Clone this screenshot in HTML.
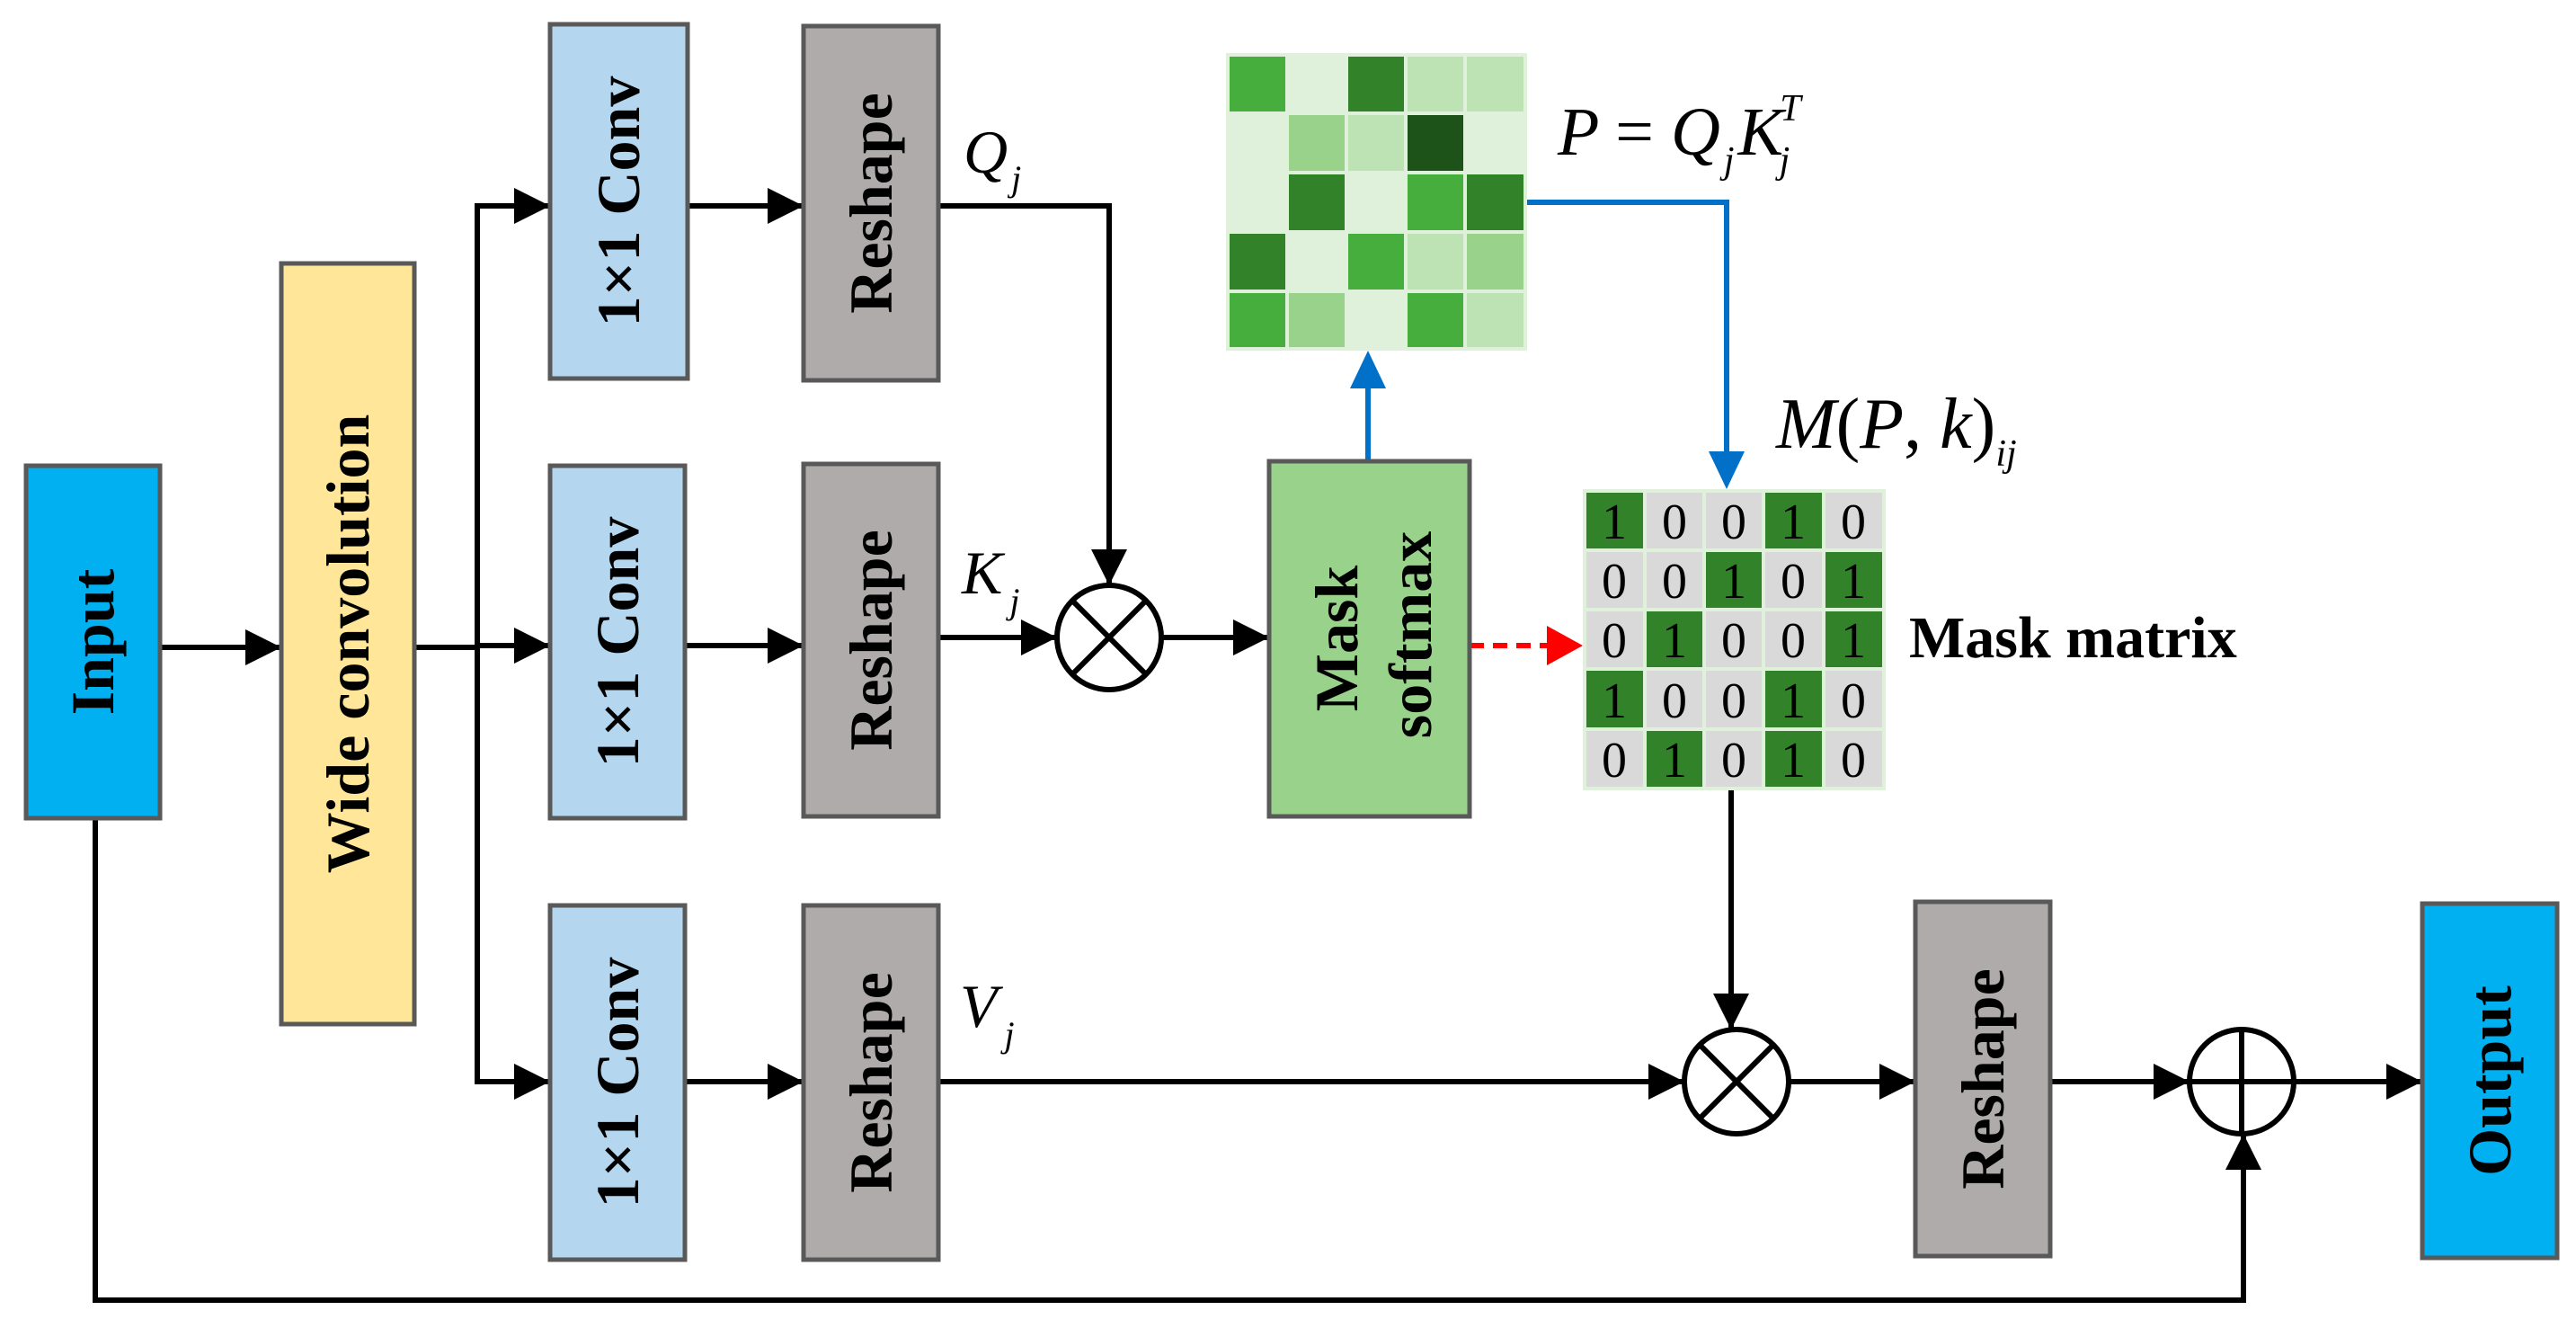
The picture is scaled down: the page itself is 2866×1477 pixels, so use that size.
<!DOCTYPE html>
<html><head><meta charset="utf-8"><style>html,body{margin:0;padding:0;background:#fff}svg{display:block}</style></head>
<body>
<svg width="2866" height="1477" viewBox="0 0 2866 1477" xmlns="http://www.w3.org/2000/svg" font-family="Liberation Serif, serif">
<g stroke="#000" stroke-width="6" fill="none">
<line x1="178" y1="720" x2="313" y2="720"/>
<line x1="461" y1="720" x2="531" y2="720"/>
<polyline points="612,229 531,229 531,1203 612,1203"/>
<line x1="531" y1="718" x2="612" y2="718"/>
<line x1="765" y1="229" x2="894" y2="229"/>
<line x1="762" y1="718" x2="894" y2="718"/>
<line x1="762" y1="1203" x2="894" y2="1203"/>
<polyline points="1044,229 1234,229 1234,651"/>
<line x1="1044" y1="709" x2="1176" y2="709"/>
<line x1="1292" y1="709" x2="1412" y2="709"/>
<line x1="1044" y1="1203" x2="1874" y2="1203"/>
<line x1="1926" y1="879" x2="1926" y2="1145"/>
<line x1="1990" y1="1203" x2="2131" y2="1203"/>
<line x1="2281" y1="1203" x2="2436" y2="1203"/>
<line x1="2552" y1="1203" x2="2695" y2="1203"/>
<polyline points="106,910 106,1446 2496,1446 2496,1261"/>
</g>
<g fill="#000">
<path d="M313,720 l-40,-20 v40z"/>
<path d="M612,229 l-40,-20 v40z"/>
<path d="M612,718 l-40,-20 v40z"/>
<path d="M612,1203 l-40,-20 v40z"/>
<path d="M894,229 l-40,-20 v40z"/>
<path d="M894,718 l-40,-20 v40z"/>
<path d="M894,1203 l-40,-20 v40z"/>
<path d="M1176,709 l-40,-20 v40z"/>
<path d="M1412,709 l-40,-20 v40z"/>
<path d="M1874,1203 l-40,-20 v40z"/>
<path d="M2131,1203 l-40,-20 v40z"/>
<path d="M2436,1203 l-40,-20 v40z"/>
<path d="M2695,1203 l-40,-20 v40z"/>
<path d="M1234,651 l-20,-40 h40z"/>
<path d="M1926,1145 l-20,-40 h40z"/>
<path d="M2496,1261 l-20,40 h40z"/>
</g>
<g stroke="#0070c8" stroke-width="6" fill="none">
<polyline points="1699,225 1921,225 1921,505"/>
<line x1="1522" y1="513" x2="1522" y2="430"/>
</g>
<path d="M1921,544 l-20,-42 h40z" fill="#0070c8"/>
<path d="M1522,390 l-20,42 h40z" fill="#0070c8"/>
<line x1="1635" y1="718" x2="1725" y2="718" stroke="#f00" stroke-width="6" stroke-dasharray="16,10"/>
<path d="M1761,718 l-40,-22 v44z" fill="#f00"/>
<g stroke="#595959" stroke-width="5">
<rect x="29" y="518" width="149" height="392" fill="#00b0f0"/>
<rect x="313" y="293" width="148" height="846" fill="#ffe699"/>
<rect x="612" y="27" width="153" height="394" fill="#b4d7ef"/>
<rect x="612" y="518" width="150" height="392" fill="#b4d7ef"/>
<rect x="612" y="1007" width="150" height="394" fill="#b4d7ef"/>
<rect x="894" y="29" width="150" height="394" fill="#afabab"/>
<rect x="894" y="516" width="150" height="392" fill="#afabab"/>
<rect x="894" y="1007" width="150" height="394" fill="#afabab"/>
<rect x="1412" y="513" width="223" height="395" fill="#98d28b"/>
<rect x="2131" y="1003" width="150" height="394" fill="#afabab"/>
<rect x="2695" y="1005" width="150" height="394" fill="#00b0f0"/>
</g>
<g stroke="#000" stroke-width="6" fill="#fff">
<circle cx="1234" cy="709" r="58"/>
<circle cx="1932" cy="1203" r="58"/>
<circle cx="2494" cy="1203" r="58"/>
</g>
<g stroke="#000" stroke-width="6">
<line x1="1193" y1="668" x2="1275" y2="750"/><line x1="1275" y1="668" x2="1193" y2="750"/>
<line x1="1891" y1="1162" x2="1973" y2="1244"/><line x1="1973" y1="1162" x2="1891" y2="1244"/>
<line x1="2436" y1="1203" x2="2552" y2="1203"/><line x1="2494" y1="1145" x2="2494" y2="1261"/>
</g>
<g font-weight="bold" font-size="68" text-anchor="middle" dominant-baseline="central" fill="#000">
<text transform="translate(103,714) rotate(-90)">Input</text>
<text transform="translate(387,716) rotate(-90)">Wide convolution</text>
<text transform="translate(688,224) rotate(-90)">1×1 Conv</text>
<text transform="translate(687,714) rotate(-90)">1×1 Conv</text>
<text transform="translate(687,1204) rotate(-90)">1×1 Conv</text>
<text transform="translate(969,226) rotate(-90)">Reshape</text>
<text transform="translate(969,712) rotate(-90)">Reshape</text>
<text transform="translate(969,1204) rotate(-90)">Reshape</text>
<text transform="translate(2206,1200) rotate(-90)">Reshape</text>
<text transform="translate(2770,1202) rotate(-90)">Output</text>
<text transform="translate(1487,710) rotate(-90)">Mask</text>
<text transform="translate(1569,706) rotate(-90)">softmax</text>
</g>
<rect x="1364" y="59" width="335" height="331" fill="#dff0db"/>
<g stroke="#dff0db" stroke-width="4">
<rect x="1366" y="61" width="66" height="65" fill="#46ae3c"/><rect x="1432" y="61" width="66" height="65" fill="#dff0db"/><rect x="1498" y="61" width="66" height="65" fill="#318229"/><rect x="1564" y="61" width="66" height="65" fill="#bde3b5"/><rect x="1630" y="61" width="67" height="65" fill="#bde3b5"/>
<rect x="1366" y="126" width="66" height="66" fill="#dff0db"/><rect x="1432" y="126" width="66" height="66" fill="#98d28b"/><rect x="1498" y="126" width="66" height="66" fill="#bde3b5"/><rect x="1564" y="126" width="66" height="66" fill="#1d5219"/><rect x="1630" y="126" width="67" height="66" fill="#dff0db"/>
<rect x="1366" y="192" width="66" height="66" fill="#dff0db"/><rect x="1432" y="192" width="66" height="66" fill="#318229"/><rect x="1498" y="192" width="66" height="66" fill="#dff0db"/><rect x="1564" y="192" width="66" height="66" fill="#46ae3c"/><rect x="1630" y="192" width="67" height="66" fill="#318229"/>
<rect x="1366" y="258" width="66" height="66" fill="#318229"/><rect x="1432" y="258" width="66" height="66" fill="#dff0db"/><rect x="1498" y="258" width="66" height="66" fill="#46ae3c"/><rect x="1564" y="258" width="66" height="66" fill="#bde3b5"/><rect x="1630" y="258" width="67" height="66" fill="#98d28b"/>
<rect x="1366" y="324" width="66" height="64" fill="#46ae3c"/><rect x="1432" y="324" width="66" height="64" fill="#98d28b"/><rect x="1498" y="324" width="66" height="64" fill="#dff0db"/><rect x="1564" y="324" width="66" height="64" fill="#46ae3c"/><rect x="1630" y="324" width="67" height="64" fill="#bde3b5"/>
</g>
<rect x="1761" y="544" width="337" height="335" fill="#dff0db"/>
<g stroke="#dff0db" stroke-width="4">
<rect x="1763" y="546" width="67" height="66" fill="#318229"/><rect x="1830" y="546" width="66" height="66" fill="#d9d9d9"/><rect x="1896" y="546" width="66" height="66" fill="#d9d9d9"/><rect x="1962" y="546" width="67" height="66" fill="#318229"/><rect x="2029" y="546" width="67" height="66" fill="#d9d9d9"/>
<rect x="1763" y="612" width="67" height="66" fill="#d9d9d9"/><rect x="1830" y="612" width="66" height="66" fill="#d9d9d9"/><rect x="1896" y="612" width="66" height="66" fill="#318229"/><rect x="1962" y="612" width="67" height="66" fill="#d9d9d9"/><rect x="2029" y="612" width="67" height="66" fill="#318229"/>
<rect x="1763" y="678" width="67" height="66" fill="#d9d9d9"/><rect x="1830" y="678" width="66" height="66" fill="#318229"/><rect x="1896" y="678" width="66" height="66" fill="#d9d9d9"/><rect x="1962" y="678" width="67" height="66" fill="#d9d9d9"/><rect x="2029" y="678" width="67" height="66" fill="#318229"/>
<rect x="1763" y="744" width="67" height="67" fill="#318229"/><rect x="1830" y="744" width="66" height="67" fill="#d9d9d9"/><rect x="1896" y="744" width="66" height="67" fill="#d9d9d9"/><rect x="1962" y="744" width="67" height="67" fill="#318229"/><rect x="2029" y="744" width="67" height="67" fill="#d9d9d9"/>
<rect x="1763" y="811" width="67" height="66" fill="#d9d9d9"/><rect x="1830" y="811" width="66" height="66" fill="#318229"/><rect x="1896" y="811" width="66" height="66" fill="#d9d9d9"/><rect x="1962" y="811" width="67" height="66" fill="#318229"/><rect x="2029" y="811" width="67" height="66" fill="#d9d9d9"/>
</g>
<g font-size="56" text-anchor="middle" fill="#000">
<text x="1796" y="599">1</text><text x="1863" y="599">0</text><text x="1929" y="599">0</text><text x="1995" y="599">1</text><text x="2062" y="599">0</text>
<text x="1796" y="665">0</text><text x="1863" y="665">0</text><text x="1929" y="665">1</text><text x="1995" y="665">0</text><text x="2062" y="665">1</text>
<text x="1796" y="731">0</text><text x="1863" y="731">1</text><text x="1929" y="731">0</text><text x="1995" y="731">0</text><text x="2062" y="731">1</text>
<text x="1796" y="798">1</text><text x="1863" y="798">0</text><text x="1929" y="798">0</text><text x="1995" y="798">1</text><text x="2062" y="798">0</text>
<text x="1796" y="864">0</text><text x="1863" y="864">1</text><text x="1929" y="864">0</text><text x="1995" y="864">1</text><text x="2062" y="864">0</text>
</g>
<text x="2124" y="731" font-size="66" font-weight="bold">Mask matrix</text>
<g font-style="italic" fill="#000" font-size="68">
<text x="1072" y="192">Q<tspan font-size="40" dx="4" dy="20">j</tspan></text>
<text x="1070" y="660">K<tspan font-size="40" dx="8" dy="22">j</tspan></text>
<text x="1068" y="1142">V<tspan font-size="40" dx="8" dy="22">j</tspan></text>
<text x="1733" y="172" font-size="76">P <tspan font-style="normal">=</tspan> Q<tspan font-size="42" dx="4" dy="20">j</tspan><tspan dx="4" dy="-20">K</tspan><tspan font-size="42" dx="-4" dy="-38">T</tspan><tspan font-size="42" dx="-24" dy="58">j</tspan></text>
<text x="1976" y="498" font-size="80">M<tspan font-style="normal">(</tspan>P<tspan font-style="normal">, </tspan>k<tspan font-style="normal">)</tspan><tspan font-size="42" dy="20">ij</tspan></text>
</g>
</svg>
</body></html>
